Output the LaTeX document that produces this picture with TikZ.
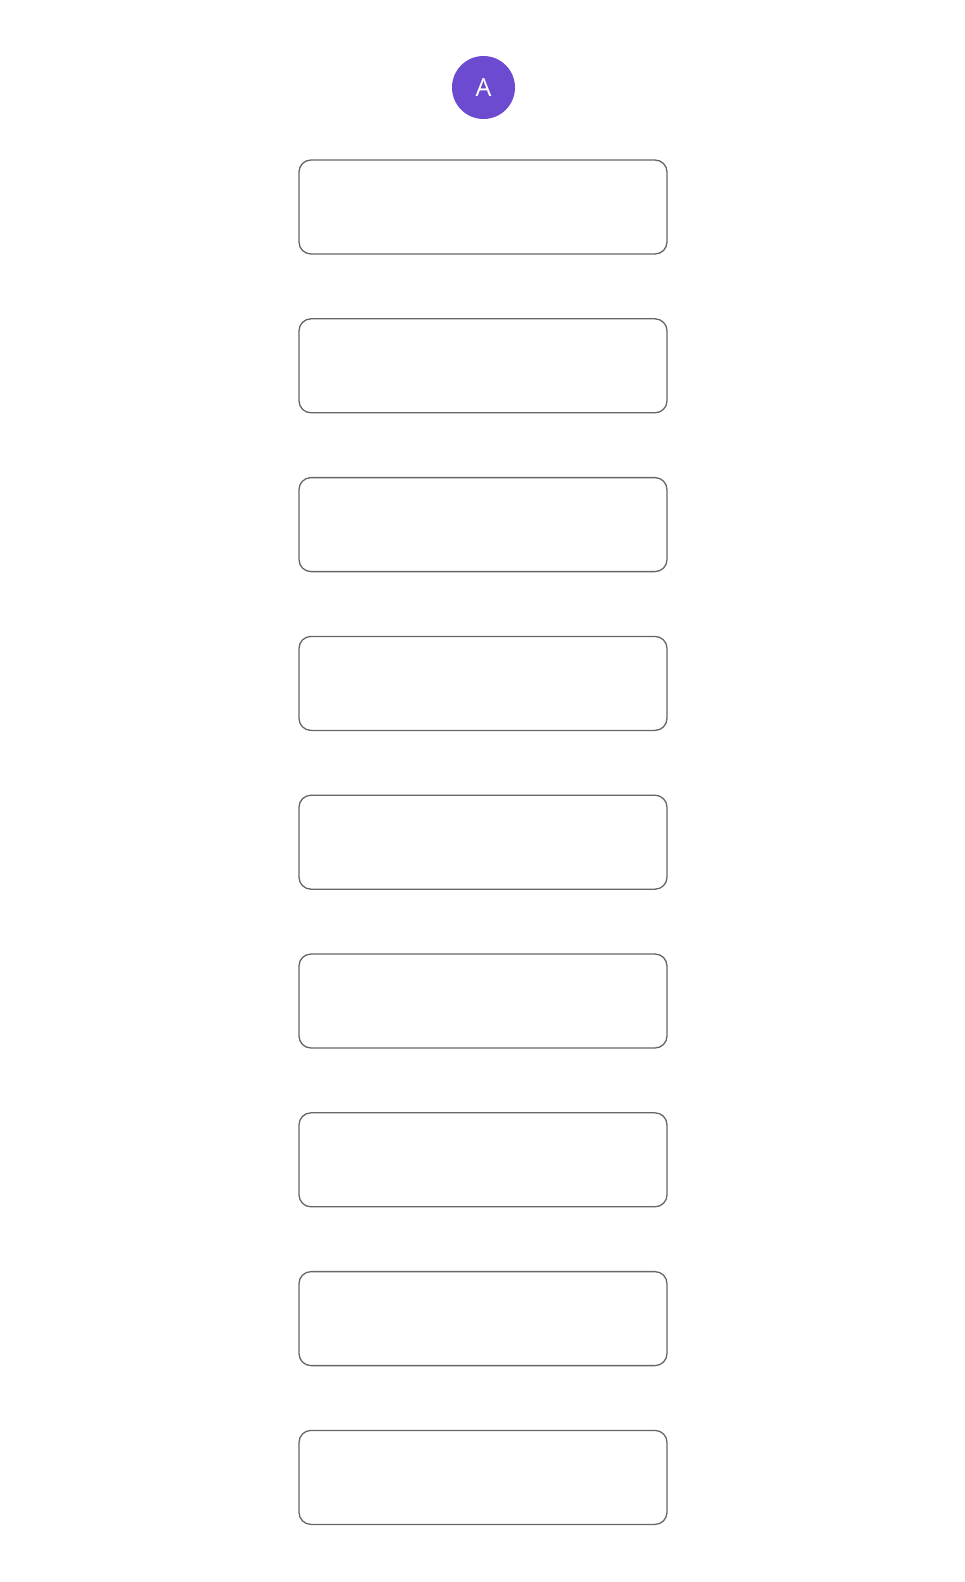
\documentclass[tikz,border=0pt]{standalone}
\usepackage{fontspec}
\setsansfont{Open Sans}
\usepackage{xcolor}
\usetikzlibrary{positioning}
\definecolor{avatarpurple}{HTML}{6D4BD0}
\definecolor{boxgray}{HTML}{666666}
\tikzset{
  stagebox/.style={rectangle,draw=boxgray,line width=1.3pt,rounded corners=12pt,minimum width=368pt,minimum height=94pt,inner sep=0pt},
  avatar/.style={circle,fill=avatarpurple,minimum size=63pt,inner sep=0pt,text=white,font=\sffamily\fontsize{25}{25}\selectfont}
}
\begin{document}
\begin{tikzpicture}[x=1pt,y=-1pt]
    % canvas
\useasboundingbox (0,0) rectangle (964,1582);
    % avatar on top
\node[avatar] (start) at (483.5,87.5) {A};
    % column of empty boxes
\foreach \i in {1,...,9} {
  \node[stagebox] (box\i) at (483,{207+(\i-1)*158.8}) {};
}
\end{tikzpicture}
\end{document}
